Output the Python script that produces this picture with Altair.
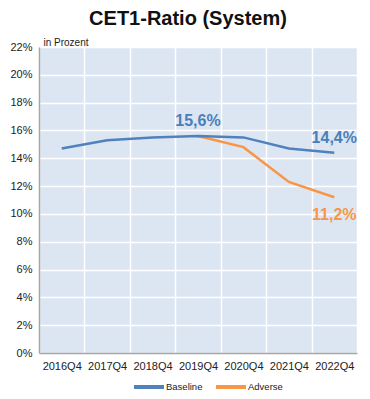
import altair as alt
import pandas as pd

quarters = ["2016Q4", "2017Q4", "2018Q4", "2019Q4", "2020Q4", "2021Q4", "2022Q4"]
baseline = [14.7, 15.3, 15.5, 15.6, 15.5, 14.7, 14.4]
adverse = [None, None, None, 15.6, 14.8, 12.3, 11.2]
series_names = ["Baseline", "Adverse"]
series_colors = ["#4F81BD", "#F79646"]
label_colors = {"Baseline": "#4A7EBB", "Adverse": "#F79646"}
y_ticks = [0, 2, 4, 6, 8, 10, 12, 14, 16, 18, 20, 22]
# (series, quarter, position) of the value annotations
annotations = [("Baseline", "2019Q4", "above"), ("Baseline", "2022Q4", "above"), ("Adverse", "2022Q4", "below")]

rows = []
for q, b, a in zip(quarters, baseline, adverse):
    rows.append({"q": q, "s": "Baseline", "v": b})
    if a is not None:
        rows.append({"q": q, "s": "Adverse", "v": a})
df = pd.DataFrame(rows)
ann = {(s, q): p for s, q, p in annotations}
df["pos"] = [ann.get((s, q), "") for s, q in zip(df["s"], df["q"])]
df["label"] = [f"{v:.1f}".replace(".", ",") + "%" for v in df["v"]]
df["tcolor"] = [label_colors[s] for s in df["s"]]

FONT = "Liberation Sans"

x = alt.X("q:N", sort=quarters,
          scale=alt.Scale(paddingInner=0, paddingOuter=0),
          axis=alt.Axis(title=None, labelAngle=0, tickBand="extent", ticks=False,
                        grid=True, gridColor="white", gridWidth=1.5,
                        domainColor="#A6A6A6", domainWidth=1.5,
                        labelPadding=7, labelFontSize=11, labelColor="#222222"))
y = alt.Y("v:Q", scale=alt.Scale(domain=[0, 22], nice=False),
          axis=alt.Axis(values=y_ticks, labelExpr="datum.value + '%'",
                        title="in Prozent", titleAngle=0, titleAlign="left",
                        titleBaseline="alphabetic", titleX=4, titleY=-2,
                        titleFontSize=10, titleFontWeight="normal", titleColor="#222222",
                        ticks=False, labelPadding=7, labelFontSize=11, labelColor="#222222",
                        grid=True, gridColor="white", gridWidth=1.5,
                        domainColor="#A6A6A6", domainWidth=1.5))

color = alt.Color("s:N", scale=alt.Scale(domain=series_names, range=series_colors),
                  legend=alt.Legend(title=None, orient="none", direction="horizontal",
                                    legendX=93, legendY=323,
                                    symbolType="stroke", symbolSize=900, symbolStrokeWidth=4,
                                    labelFontSize=9.5, labelColor="#222222", labelOffset=0,
                                    columnPadding=5))

base = alt.Chart(df)
line_adv = base.transform_filter("datum.s == 'Adverse'").mark_line(strokeWidth=2.5).encode(x=x, y=y, color=color)
line_base = base.transform_filter("datum.s == 'Baseline'").mark_line(strokeWidth=2.5).encode(x=x, y=y, color=color)
txt_above = base.transform_filter("datum.pos == 'above'").mark_text(
    fontSize=16, fontWeight="bold", dy=-15, baseline="middle").encode(
    x=x, y=y, text="label:N", color=alt.Color("tcolor:N", scale=None))
txt_below = base.transform_filter("datum.pos == 'below'").mark_text(
    fontSize=16, fontWeight="bold", dy=18, baseline="middle").encode(
    x=x, y=y, text="label:N", color=alt.Color("tcolor:N", scale=None))

chart = alt.layer(line_adv, line_base, txt_above, txt_below).properties(
    width=318, height=306,
    title=alt.TitleParams("CET1-Ratio (System)", fontSize=20, fontWeight="bold",
                          font=FONT, color="#111111", anchor="middle", dx=-10, offset=8),
    autosize=alt.AutoSizeParams(type="none"),
    padding={"left": 31, "top": 39, "right": 5, "bottom": 44},
).configure(font=FONT).configure_view(fill="#DCE6F2", strokeWidth=0)

chart.save("out.html", embed_options={"renderer": "svg", "actions": False})
